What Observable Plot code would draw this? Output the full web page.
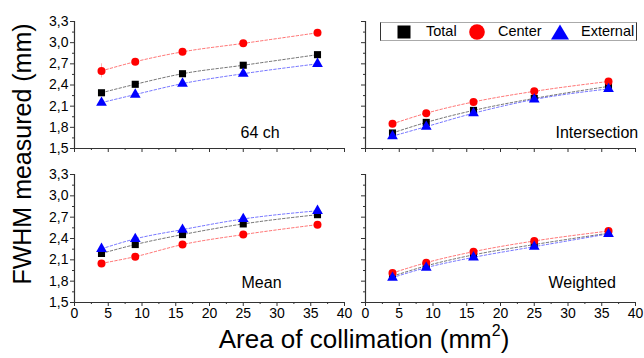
<!DOCTYPE html>
<html><head><meta charset="utf-8">
<script src="https://cdn.jsdelivr.net/npm/d3@7"></script>
<script src="https://cdn.jsdelivr.net/npm/@observablehq/plot@0.6"></script>
<style>
body{margin:0;background:#fff;font-family:"Liberation Sans",Arial,sans-serif;}
#chart{position:relative;width:644px;height:358px;overflow:hidden;}
#chart svg{position:absolute;left:0;top:0;}
.title{position:absolute;color:#000;font-size:25px;white-space:nowrap;}
#legend{position:absolute;left:380px;top:22px;width:255px;height:17px;border:1px solid #aaa;border-left-color:#333;border-right-color:#333;background:#fff;font-size:14.5px;}
#legend span{position:absolute;top:0px;line-height:17px;}
#legend svg{position:absolute;}
</style></head><body>
<div id="chart"></div>
<script>
// ---- data ----
const areas = [4, 9, 16, 25, 36];
const series = ["Total", "Center", "External"];
const panels = ["64 ch", "Intersection", "Mean", "Weighted"];
const xTicks = [0, 5, 10, 15, 20, 25, 30, 35, 40];
const yTicks = [1.5, 1.8, 2.1, 2.4, 2.7, 3.0, 3.3];

const total64 = [2.29, 2.41, 2.56, 2.68, 2.83];
const center64 = [2.60, 2.73, 2.87, 2.99, 3.14];
const external64 = [2.15, 2.265, 2.42, 2.56, 2.70];

const totalInter = [1.72, 1.87, 2.04, 2.21, 2.38];
const centerInter = [1.85, 2.00, 2.16, 2.31, 2.45];
const externalInter = [1.675, 1.81, 2.00, 2.195, 2.345];

const totalMean = [2.19, 2.315, 2.455, 2.605, 2.735];
const centerMean = [2.05, 2.145, 2.315, 2.455, 2.595];
const externalMean = [2.255, 2.395, 2.525, 2.675, 2.79];

const totalWeighted = [1.87, 2.015, 2.17, 2.315, 2.475];
const centerWeighted = [1.915, 2.06, 2.215, 2.365, 2.505];
const externalWeighted = [1.85, 1.99, 2.135, 2.285, 2.465];

const err64 = {Total: [0.02, 0.02, 0.02, 0.02, 0.02], Center: [0.10, 0.04, 0.04, 0.04, 0.04], External: [0.02, 0.02, 0.02, 0.02, 0.02]};
const errInter = {Total: [0.02, 0.03, 0.02, 0.02, 0.02], Center: [0.02, 0.02, 0.02, 0.02, 0.02], External: [0.02, 0.03, 0.02, 0.02, 0.03]};
const errMean = {Total: [0.02, 0.02, 0.02, 0.02, 0.02], Center: [0.02, 0.02, 0.02, 0.02, 0.02], External: [0.02, 0.02, 0.02, 0.02, 0.02]};
const errWeighted = {Total: [0.02, 0.02, 0.02, 0.02, 0.02], Center: [0.02, 0.02, 0.02, 0.02, 0.02], External: [0.02, 0.02, 0.02, 0.02, 0.02]};

const colors = ["#000000", "#ff0000", "#0000ff"];
const symbols = ["square", "circle", "triangle"];

// ---- build tables ----
const panelValues = {
  "64 ch": [total64, center64, external64],
  "Intersection": [totalInter, centerInter, externalInter],
  "Mean": [totalMean, centerMean, externalMean],
  "Weighted": [totalWeighted, centerWeighted, externalWeighted]
};
const panelErr = {"64 ch": err64, "Intersection": errInter, "Mean": errMean, "Weighted": errWeighted};

// layout (style)
const W = 644, H = 358;
const layout = {
  "64 ch":        {l: 74,  r: 300, t: 21,  b: 210, showX: false, showY: true,  lx: 166, ly: -11},
  "Intersection": {l: 365, r: 9,   t: 21,  b: 210, showX: false, showY: false, lx: 190, ly: -11},
  "Mean":         {l: 74,  r: 300, t: 174, b: 56,  showX: true,  showY: true,  lx: 167, ly: -15},
  "Weighted":     {l: 365, r: 9,   t: 174, b: 56,  showX: true,  showY: false, lx: 183, ly: -15}
};
const fmt = d => d.toFixed(1).replace(".", ",");
const xMinor = xTicks.slice(0, -1).map(d => d + 2.5);
const yMinor = yTicks.slice(0, -1).map(d => +(d + 0.15).toFixed(2));

const chart = document.getElementById("chart");

for (const p of panels) {
  const L = layout[p];
  const rows = [];
  series.forEach((s, si) => {
    areas.forEach((a, i) => {
      rows.push({series: s, x: a, y: panelValues[p][si][i], err: panelErr[p][s][i]});
    });
  });
  const svg = Plot.plot({
    width: W, height: H,
    marginLeft: L.l, marginRight: L.r, marginTop: L.t, marginBottom: L.b,
    style: {background: "transparent", fontFamily: "'Liberation Sans', Arial, sans-serif", fontSize: "14px", color: "#000", overflow: "visible"},
    x: {domain: [0, 40]},
    y: {domain: [1.5, 3.3]},
    color: {domain: series, range: colors},
    symbol: {domain: series, range: symbols},
    marks: [
      Plot.axisX({ticks: xMinor, tickSize: 2, tickFormat: () => "", label: null, stroke: "#333"}),
      Plot.axisY({ticks: yMinor, tickSize: 2, tickFormat: () => "", label: null, stroke: "#333"}),
      Plot.axisX({ticks: xTicks, tickSize: 4, tickPadding: 2, tickFormat: L.showX ? (d => String(d)) : () => "", label: null, fontSize: 14, stroke: "#333"}),
      Plot.axisY({ticks: yTicks, tickSize: 4, tickPadding: 2, tickFormat: L.showY ? fmt : () => "", label: null, fontSize: 14, stroke: "#333"}),
      Plot.ruleX([0], {stroke: "#333", strokeWidth: 1.2}),
      Plot.ruleY([1.5], {stroke: "#333", strokeWidth: 1.2}),
      Plot.line(rows, {x: "x", y: "y", z: "series", stroke: "series", strokeWidth: 1, strokeDasharray: "2.5,2", strokeOpacity: 0.55, curve: "monotone-x"}),
      Plot.ruleX(rows, {x: "x", y1: d => d.y - d.err, y2: d => d.y + d.err, stroke: "series", strokeOpacity: 0.3}),
      Plot.dot(rows, {x: "x", y: "y", symbol: "series", fill: "series", r: 4}),
      Plot.text([p], {text: d => d, frameAnchor: "bottom-left", textAnchor: "start", lineAnchor: "bottom", dx: L.lx, dy: L.ly, fontSize: 16, fill: "#000"})
    ]
  });
  chart.appendChild(svg);
}

// axis titles
const yt = document.createElement("div");
yt.className = "title";
yt.textContent = "FWHM measured (mm)";
yt.style.left = "22px"; yt.style.top = "154px";
yt.style.transform = "translate(-50%,-50%) rotate(-90deg)";
chart.appendChild(yt);

const xt = document.createElement("div");
xt.className = "title";
xt.style.fontSize = "26px";
xt.innerHTML = "Area of collimation (mm<sup style='font-size:16px;vertical-align:12px;line-height:0'>2</sup>)";
xt.style.left = "364px"; xt.style.top = "339px";
xt.style.transform = "translate(-50%,-50%)";
chart.appendChild(xt);

// legend
const lg = document.createElement("div");
lg.id = "legend";
const symPos = [23, 96, 179];
const txtPos = [45, 117, 200];
series.forEach((s, i) => {
  const ns = "http://www.w3.org/2000/svg";
  const sv = document.createElementNS(ns, "svg");
  sv.setAttribute("width", 20); sv.setAttribute("height", 18);
  sv.style.left = (symPos[i] - 10) + "px"; sv.style.top = "0px";
  let el;
  if (symbols[i] === "square") { el = document.createElementNS(ns, "rect"); el.setAttribute("x", 3.5); el.setAttribute("y", 2.5); el.setAttribute("width", 13); el.setAttribute("height", 13); }
  else if (symbols[i] === "circle") { el = document.createElementNS(ns, "circle"); el.setAttribute("cx", 10); el.setAttribute("cy", 9); el.setAttribute("r", 7.8); }
  else { el = document.createElementNS(ns, "path"); el.setAttribute("d", "M10,1.5L19,16.5L1,16.5Z"); }
  el.setAttribute("fill", colors[i]);
  sv.appendChild(el);
  lg.appendChild(sv);
  const sp = document.createElement("span");
  sp.textContent = s; sp.style.left = txtPos[i] + "px";
  lg.appendChild(sp);
});
chart.appendChild(lg);
</script>
</body></html>
